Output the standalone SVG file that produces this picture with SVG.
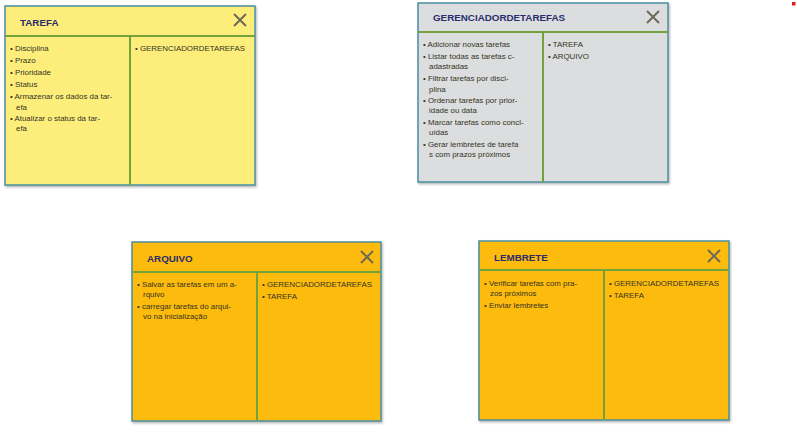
<svg xmlns="http://www.w3.org/2000/svg" width="797" height="439" viewBox="0 0 797 439">
<defs>
<style>
.card{stroke:#4a8fa0;stroke-width:1.5}
.div{stroke:#74a23a;stroke-width:2;fill:none}
.title{font-family:"Liberation Sans",Arial,sans-serif;font-weight:bold;font-size:9.8px;fill:#2a2d6b}
.body{font-family:"Liberation Sans",Arial,sans-serif;font-size:7.9px;fill:#333322}
.x{stroke:#6e6a58;stroke-width:2;fill:none}
.yellow{fill:#fdee7b}
.gray{fill:#dcdddf}
.orange{fill:#fdbb10}
</style>
<filter id="sh" x="-10%" y="-10%" width="120%" height="120%">
<feDropShadow dx="1" dy="1.5" stdDeviation="1.2" flood-color="#000" flood-opacity="0.3"/>
</filter>
</defs>
<rect x="792" y="2" width="3.5" height="3.5" fill="#e02020"/>
<g id="tarefa">
<rect class="card yellow" x="5" y="6" width="250" height="179" filter="url(#sh)"/>
<line class="div" x1="5" y1="36" x2="255" y2="36"/>
<line class="div" x1="130" y1="36" x2="130" y2="185"/>
<text class="title" x="20" y="25.5">TAREFA</text>
<path class="x" d="M234 14l12 12M246 14l-12 12"/>
<text class="body" x="10" y="50.5">• Disciplina</text>
<text class="body" x="10" y="62.5">• Prazo</text>
<text class="body" x="10" y="74.5">• Prioridade</text>
<text class="body" x="10" y="86.5">• Status</text>
<text class="body" x="10" y="99">• Armazenar os dados da tar-</text>
<text class="body" x="16" y="109.5">efa</text>
<text class="body" x="10" y="120.5">• Atualizar o status da tar-</text>
<text class="body" x="16" y="131">efa</text>
<text class="body" x="135" y="50.5">• GERENCIADORDETAREFAS</text>
</g>
<g id="gerenciador">
<rect class="card gray" x="418" y="3" width="250" height="179" filter="url(#sh)"/>
<line class="div" x1="418" y1="32" x2="668" y2="32"/>
<line class="div" x1="543" y1="32" x2="543" y2="182"/>
<text class="title" x="433" y="21">GERENCIADORDETAREFAS</text>
<path class="x" d="M647 11l12 12M659 11l-12 12"/>
<text class="body" x="423" y="46.5">• Adicionar novas tarefas</text>
<text class="body" x="423" y="58.5">• Listar todas as tarefas c-</text>
<text class="body" x="429" y="68.5">adastradas</text>
<text class="body" x="423" y="81">• Filtrar tarefas por disci-</text>
<text class="body" x="429" y="91.5">plina</text>
<text class="body" x="423" y="102.5">• Ordenar tarefas por prior-</text>
<text class="body" x="429" y="112.5">idade ou data</text>
<text class="body" x="423" y="124.5">• Marcar tarefas como concl-</text>
<text class="body" x="429" y="134.5">uídas</text>
<text class="body" x="423" y="146.5">• Gerar lembretes de tarefa</text>
<text class="body" x="429" y="156.5">s com prazos próximos</text>
<text class="body" x="548" y="46.5">• TAREFA</text>
<text class="body" x="548" y="58.5">• ARQUIVO</text>
</g>
<g id="arquivo">
<rect class="card orange" x="132" y="242" width="249" height="179" filter="url(#sh)"/>
<line class="div" x1="132" y1="272" x2="381" y2="272"/>
<line class="div" x1="257" y1="272" x2="257" y2="421"/>
<text class="title" x="147" y="261.5">ARQUIVO</text>
<path class="x" d="M361 251l12 12M373 251l-12 12"/>
<text class="body" x="137" y="286.5">• Salvar as tarefas em um a-</text>
<text class="body" x="143" y="297">rquivo</text>
<text class="body" x="137" y="308.5">• carregar tarefas do arqui-</text>
<text class="body" x="143" y="318.5">vo na inicialização</text>
<text class="body" x="262" y="286.5">• GERENCIADORDETAREFAS</text>
<text class="body" x="262" y="298.5">• TAREFA</text>
</g>
<g id="lembrete">
<rect class="card orange" x="479" y="241" width="250" height="179" filter="url(#sh)"/>
<line class="div" x1="479" y1="270" x2="729" y2="270"/>
<line class="div" x1="604" y1="270" x2="604" y2="420"/>
<text class="title" x="494" y="260.5">LEMBRETE</text>
<path class="x" d="M708 250l12 12M720 250l-12 12"/>
<text class="body" x="484" y="285.5">• Verificar tarefas com pra-</text>
<text class="body" x="490" y="295.5">zos próximos</text>
<text class="body" x="484" y="307.5">• Enviar lembretes</text>
<text class="body" x="609" y="285.5">• GERENCIADORDETAREFAS</text>
<text class="body" x="609" y="297.5">• TAREFA</text>
</g>
<g id="connectors"></g>
</svg>
